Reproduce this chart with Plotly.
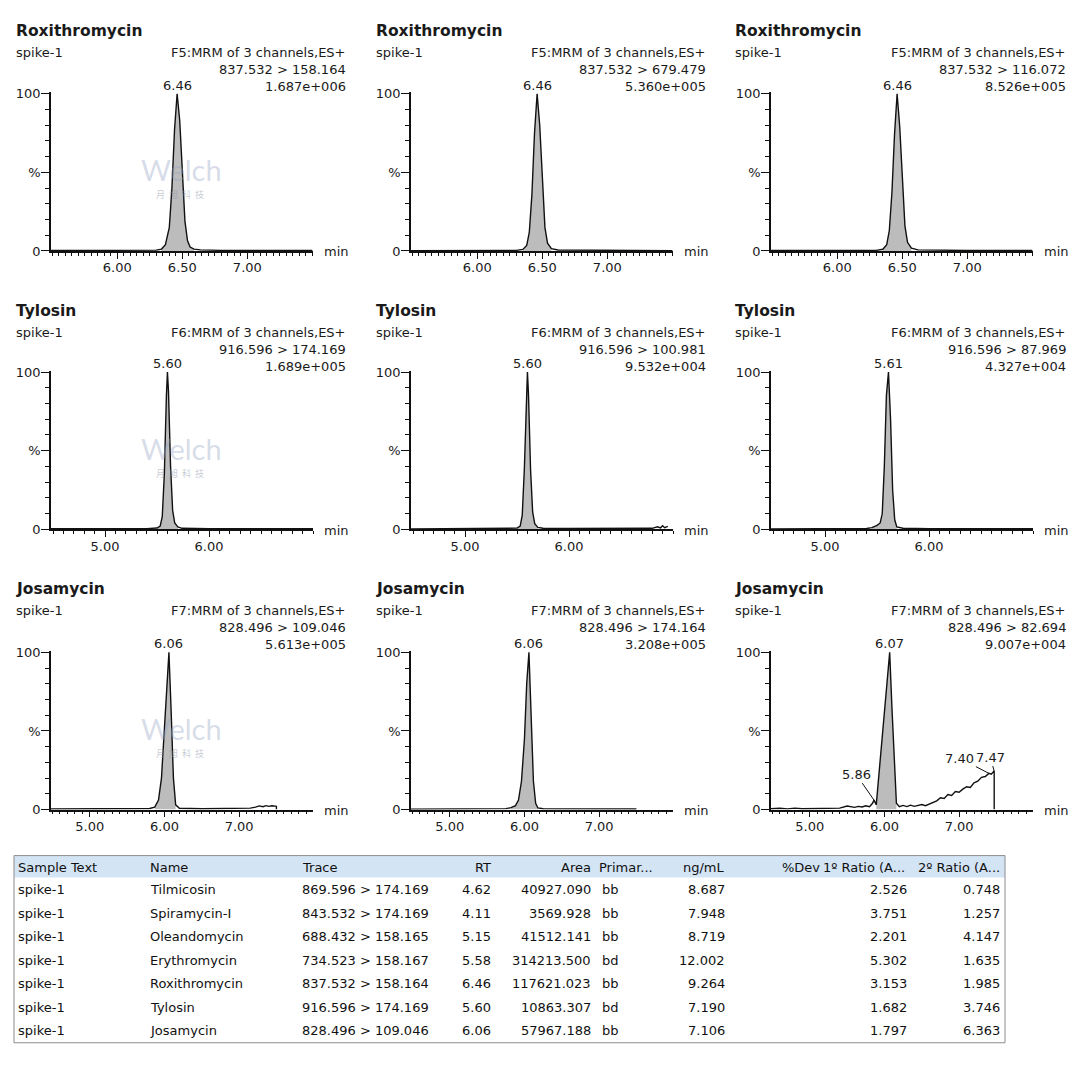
import numpy as np
import plotly.graph_objects as go

W = 1080
HF = 1079
# the page is photographed with a slight vertical squeeze; compensate
VS, VOFF = 0.986, 7.4

# ---------------- panel meta ----------------
compounds = ["Roxithromycin"] * 3 + ["Tylosin"] * 3 + ["Josamycin"] * 3
functions = (["F5:MRM of 3 channels,ES+"] * 3 + ["F6:MRM of 3 channels,ES+"] * 3
             + ["F7:MRM of 3 channels,ES+"] * 3)
transitions = ["837.532 > 158.164", "837.532 > 679.479", "837.532 > 116.072",
               "916.596 > 174.169", "916.596 > 100.981", "916.596 > 87.969",
               "828.496 > 109.046", "828.496 > 174.164", "828.496 > 82.694"]
intensities = ["1.687e+006", "5.360e+005", "8.526e+005",
               "1.689e+005", "9.532e+004", "4.327e+004",
               "5.613e+005", "3.208e+005", "9.007e+004"]
sample_name = "spike-1"
apex_rt = [6.46, 6.46, 6.46, 5.60, 5.60, 5.61, 6.06, 6.06, 6.07]
peak_start = [6.34, 6.35, 6.35, 5.50, 5.50, 5.45, 5.87, 5.82, 5.89]
peak_end = [6.59, 6.57, 6.57, 5.70, 5.70, 5.69, 6.15, 6.18, 6.16]

# ---------------- chromatogram traces (time min, % of max) ----------------
rox1_t = [5.49, 5.70, 5.95, 6.20, 6.30, 6.34, 6.37, 6.40, 6.42, 6.44, 6.46, 6.48, 6.50, 6.52, 6.54, 6.56, 6.59, 6.64, 6.80, 7.10, 7.50]
rox1_y = [0.3, 0.3, 0.2, 0.3, 0.5, 1.2, 4, 15, 40, 77, 100, 83, 48, 19, 6.5, 2.5, 1.2, 0.7, 0.4, 0.3, 0.3]
rox2_t = [5.49, 5.80, 6.10, 6.30, 6.35, 6.38, 6.40, 6.42, 6.44, 6.46, 6.48, 6.50, 6.52, 6.54, 6.57, 6.62, 7.00, 7.50]
rox2_y = [0.2, 0.3, 0.2, 0.4, 1.0, 3.5, 12, 36, 75, 100, 80, 42, 15, 5, 1.5, 0.6, 0.3, 0.2]
rox3_t = [5.49, 5.80, 6.10, 6.30, 6.35, 6.38, 6.40, 6.42, 6.44, 6.46, 6.48, 6.50, 6.52, 6.54, 6.57, 6.62, 7.00, 7.50]
rox3_y = [0.3, 0.2, 0.3, 0.4, 1.1, 4, 13, 37, 74, 100, 79, 44, 16, 5.5, 1.8, 0.7, 0.3, 0.3]

tyl1_t = [4.48, 4.80, 5.10, 5.40, 5.50, 5.53, 5.55, 5.57, 5.59, 5.60, 5.61, 5.63, 5.65, 5.67, 5.70, 5.74, 6.00, 6.40, 7.00]
tyl1_y = [0.3, 0.3, 0.4, 0.4, 0.8, 2, 8, 35, 85, 100, 88, 40, 12, 4, 1.5, 0.6, 0.4, 0.3, 0.3]
tyl2_t = [4.48, 4.80, 5.10, 5.40, 5.50, 5.53, 5.55, 5.57, 5.59, 5.60, 5.61, 5.63, 5.65, 5.67, 5.70, 5.75, 6.00, 6.40, 6.80, 6.85, 6.88, 6.90, 6.92, 6.95]
tyl2_y = [0.2, 0.3, 0.3, 0.4, 0.7, 2, 9, 38, 88, 100, 86, 38, 11, 3.5, 1.2, 0.6, 0.5, 0.4, 0.6, 1.6, 0.9, 2.2, 1.0, 1.8]
tyl3_t = [4.48, 4.80, 5.10, 5.40, 5.45, 5.50, 5.53, 5.55, 5.57, 5.59, 5.61, 5.63, 5.65, 5.67, 5.69, 5.75, 6.00, 6.40, 7.00]
tyl3_y = [0.2, 0.3, 0.3, 0.5, 1.0, 2.5, 4, 10, 40, 85, 100, 70, 25, 6, 1.5, 0.6, 0.4, 0.3, 0.3]

jos1_t = [4.48, 4.80, 5.10, 5.40, 5.60, 5.80, 5.87, 5.92, 5.96, 6.00, 6.03, 6.06, 6.09, 6.12, 6.15, 6.20, 6.50, 6.80, 7.00, 7.15, 7.22, 7.27, 7.32, 7.36, 7.40, 7.44, 7.48, 7.50, 7.50]
jos1_y = [0.3, 0.4, 0.3, 0.5, 0.6, 0.7, 1.5, 6, 20, 50, 80, 100, 62, 20, 3, 0.8, 0.5, 0.6, 0.7, 0.9, 1.5, 2.3, 1.8, 2.5, 2.0, 2.4, 2.2, 2.0, 0]
jos2_t = [4.48, 4.80, 5.10, 5.40, 5.60, 5.75, 5.82, 5.88, 5.92, 5.96, 6.00, 6.03, 6.06, 6.09, 6.12, 6.15, 6.18, 6.25, 6.50, 7.00, 7.50]
jos2_y = [0.2, 0.3, 0.2, 0.3, 0.4, 0.6, 1.2, 2.5, 6, 18, 45, 80, 100, 60, 18, 4, 1.0, 0.5, 0.4, 0.3, 0.3]
jos3_t = [4.48, 4.60, 4.70, 4.80, 4.90, 5.00, 5.10, 5.20, 5.30, 5.40,
          5.50, 5.55, 5.60, 5.65, 5.70, 5.75, 5.80, 5.84, 5.86, 5.89,
          5.95, 6.01, 6.07, 6.10, 6.13, 6.16, 6.20, 6.25, 6.30, 6.35,
          6.40, 6.45, 6.50, 6.55, 6.60, 6.65, 6.70, 6.75, 6.80, 6.85,
          6.90, 6.95, 7.00, 7.05, 7.10, 7.15, 7.20, 7.25, 7.30, 7.35,
          7.40, 7.43, 7.47, 7.47]
jos3_y = [0.5, 0.8, 0.4, 0.9, 0.5, 0.6, 1.0, 0.7, 1.2, 0.9,
          2.2, 1.6, 1.4, 2.0, 1.6, 2.4, 1.8, 4.0, 6.0, 3.0,
          35, 70, 100, 65, 30, 4, 1.8, 2.6, 1.9, 2.8,
          2.0, 2.6, 3.2, 2.4, 3.6, 4.5, 5.5, 7.5, 7.0, 9.5,
          9.0, 11.5, 11.0, 13, 14.5, 14, 17, 18, 20.5, 21,
          23, 22.5, 24.5, 0]

traces_t = [rox1_t, rox2_t, rox3_t, tyl1_t, tyl2_t, tyl3_t, jos1_t, jos2_t, jos3_t]
traces_y = [rox1_y, rox2_y, rox3_y, tyl1_y, tyl2_y, tyl3_y, jos1_y, jos2_y, jos3_y]

extra_panel = 8
extra_rt = [5.86, 7.40, 7.47]
extra_h = [6.0, 23.0, 24.5]

row_xrange = [[5.49, 7.505], [4.48, 7.0], [4.48, 7.99]]
row_tickvals = [[5.5, 5.75, 6.0, 6.25, 6.5, 6.75, 7.0, 7.25, 7.5],
                [4.5, 5.0, 5.5, 6.0, 6.5, 7.0],
                [4.5, 5.0, 5.5, 6.0, 6.5, 7.0, 7.5]]
row_ticktext = [["", "", "6.00", "", "6.50", "", "7.00", "", ""],
                ["", "5.00", "", "6.00", "", ""],
                ["", "5.00", "", "6.00", "", "7.00", ""]]
row_minor_step = [0.05, 0.1, 0.1]

# ---------------- results table ----------------
tbl_headers = ["Sample Text", "Name", "Trace", "RT", "Area", "Primar...",
               "ng/mL", "%Dev", "1º Ratio (A...", "2º Ratio (A..."]
tbl_sample = ["spike-1"] * 7
tbl_name = ["Tilmicosin", "Spiramycin-I", "Oleandomycin", "Erythromycin",
            "Roxithromycin", "Tylosin", "Josamycin"]
tbl_trace = ["869.596 > 174.169", "843.532 > 174.169", "688.432 > 158.165",
             "734.523 > 158.167", "837.532 > 158.164", "916.596 > 174.169",
             "828.496 > 109.046"]
tbl_rt = ["4.62", "4.11", "5.15", "5.58", "6.46", "5.60", "6.06"]
tbl_area = ["40927.090", "3569.928", "41512.141", "314213.500", "117621.023",
            "10863.307", "57967.188"]
tbl_primary = ["bb", "bb", "bb", "bd", "bb", "bd", "bb"]
tbl_ngml = ["8.687", "7.948", "8.719", "12.002", "9.264", "7.190", "7.106"]
tbl_dev = [""] * 7
tbl_ratio1 = ["2.526", "3.751", "2.201", "5.302", "3.153", "1.682", "1.797"]
tbl_ratio2 = ["0.748", "1.257", "4.147", "1.635", "1.985", "3.746", "6.363"]
tbl_columns = [tbl_sample, tbl_name, tbl_trace, tbl_rt, tbl_area, tbl_primary,
               tbl_ngml, tbl_dev, tbl_ratio1, tbl_ratio2]

# ---------------- geometry (target pixels in the 1080x1079 picture) ----------------
col_left = [51, 411, 771]
col_right = [313, 673, 1033]
row_top = [95, 373, 653]
row_bot = [252, 530, 810]
title_x = [14, 374, 733]
right_x = [348, 708, 1068]
title_y = [32, 312, 590]
sub_y = [54, 333, 611]
LINE = 17
YMAX = 101.0

tbl_left, tbl_right, tbl_top, tbl_head_bot, tbl_bot = 14, 1005, 856, 878, 1043
tbl_row0, tbl_row_h = 890, 23.5
tbl_col_x = [16, 148, 300, 493, 593, 597, 727, 822, 907, 1002]
tbl_col_anchor = ["left", "left", "left", "right", "right", "left", "right", "right", "right", "right"]
tbl_cell_x = [16, 148, 300, 493, 593, 600, 727, 822, 909, 1002]

FONT = "DejaVu Sans, sans-serif"
TXT = "#1a1a1a"
FILL = "#bcbcbc"
FS = 13


def px(x):
    return x / W


def py(y):
    return 1 - (y / VS - VOFF) / HF


fig = go.Figure()
annotations = []
layout_axes = {}

for i in range(9):
    r, c = divmod(i, 3)
    xa = "x" if i == 0 else f"x{i+1}"
    ya = "y" if i == 0 else f"y{i+1}"
    t = np.array(traces_t[i])
    y = np.array(traces_y[i])
    m = (t >= peak_start[i]) & (t <= peak_end[i])
    fig.add_trace(go.Scatter(x=t[m], y=y[m], mode="lines", fill="tozeroy",
                             fillcolor=FILL, line=dict(width=0, color=FILL),
                             xaxis=xa, yaxis=ya, hoverinfo="skip"))
    fig.add_trace(go.Scatter(x=t, y=y, mode="lines",
                             line=dict(color="#111111", width=1.4),
                             xaxis=xa, yaxis=ya, hoverinfo="skip"))

    top_px = row_bot[r] - (row_bot[r] - row_top[r]) * YMAX / 100.0
    xr = row_xrange[r]
    step = row_minor_step[r]
    minor_vals = list(np.round(np.arange(np.ceil(xr[0] / step) * step, xr[1] + 1e-9, step), 3))
    key = "" if i == 0 else str(i + 1)
    layout_axes["xaxis" + key] = dict(
        domain=[px(col_left[c]), px(col_right[c])], anchor=ya, range=xr,
        showline=True, linecolor="#111", linewidth=1.5, showgrid=False, zeroline=False,
        ticks="outside", ticklen=6, tickwidth=1.2, tickcolor="#111",
        tickmode="array", tickvals=row_tickvals[r], ticktext=row_ticktext[r],
        tickfont=dict(family=FONT, size=FS, color=TXT), ticklabelstandoff=-2,
        minor=dict(tickmode="array", tickvals=minor_vals, ticks="outside",
                   ticklen=3, tickwidth=1, tickcolor="#111"),
        fixedrange=True)
    layout_axes["yaxis" + key] = dict(
        domain=[py(row_bot[r]), py(top_px)], anchor=xa, range=[0, YMAX],
        showline=True, linecolor="#111", linewidth=1.5, showgrid=False, zeroline=False,
        ticks="outside", ticklen=8, tickwidth=1.2, tickcolor="#111",
        tickmode="array", tickvals=[0, 50, 100], ticktext=["0", "%", "100"],
        tickfont=dict(family=FONT, size=FS, color=TXT), ticklabelstandoff=-2,
        minor=dict(tickmode="array", tickvals=[10, 20, 30, 40, 60, 70, 80, 90],
                   ticks="outside", ticklen=4, tickwidth=1, tickcolor="#111"),
        fixedrange=True)

    annotations.append(dict(x=px(title_x[c]), y=py(title_y[r]), xref="paper", yref="paper",
                            text=f"<b>{compounds[i]}</b>", showarrow=False,
                            xanchor="left", yanchor="middle",
                            font=dict(family=FONT, size=15.5, color=TXT)))
    annotations.append(dict(x=px(title_x[c]), y=py(sub_y[r]), xref="paper", yref="paper",
                            text=sample_name, showarrow=False, xanchor="left", yanchor="middle",
                            font=dict(family=FONT, size=FS, color=TXT)))
    for k, s in enumerate([functions[i], transitions[i], intensities[i]]):
        annotations.append(dict(x=px(right_x[c]), y=py(sub_y[r] + k * LINE),
                                xref="paper", yref="paper", text=s, showarrow=False,
                                xanchor="right", yanchor="middle",
                                font=dict(family=FONT, size=FS, color=TXT)))
    annotations.append(dict(x=px(col_right[c] + 9), y=py(row_bot[r] + 1), xref="paper",
                            yref="paper", text="min", showarrow=False, xanchor="left",
                            yanchor="middle", font=dict(family=FONT, size=FS, color=TXT)))
    annotations.append(dict(x=apex_rt[i], y=100, xref=xa, yref=ya, text=f"{apex_rt[i]:.2f}",
                            showarrow=False, xanchor="center", yanchor="bottom", yshift=-1,
                            font=dict(family=FONT, size=FS, color=TXT)))

extra_ax = [-18, -29, -4]
extra_ay = [-26, -15, -14]
for k in range(len(extra_rt)):
    annotations.append(dict(x=extra_rt[k], y=extra_h[k], xref=f"x{extra_panel+1}",
                            yref=f"y{extra_panel+1}", text=f"{extra_rt[k]:.2f}",
                            showarrow=True, arrowhead=0, arrowwidth=1, arrowcolor="#111",
                            ax=extra_ax[k], ay=extra_ay[k], standoff=0,
                            font=dict(family=FONT, size=FS, color=TXT)))

# watermark (faint logo text) in first column
for r in range(3):
    annotations.append(dict(x=px(181), y=py(row_top[r] + 76), xref="paper", yref="paper",
                            text="Welch", showarrow=False, xanchor="center", yanchor="middle",
                            font=dict(family="Lato, sans-serif", size=29,
                                      color="rgba(150,165,195,0.38)")))
    annotations.append(dict(x=px(180), y=py(row_top[r] + 101), xref="paper", yref="paper",
                            text="月  旭  科  技", showarrow=False, xanchor="center",
                            yanchor="middle",
                            font=dict(family="Noto Sans CJK SC", size=9,
                                      color="rgba(140,150,170,0.5)")))

# table text
for j, head in enumerate(tbl_headers):
    annotations.append(dict(x=px(tbl_col_x[j]), y=py((tbl_top + tbl_head_bot) / 2 + 0.5),
                            xref="paper", yref="paper", text=head, showarrow=False,
                            xanchor=tbl_col_anchor[j], yanchor="middle",
                            font=dict(family=FONT, size=FS, color="#111")))
    for k, val in enumerate(tbl_columns[j]):
        if val == "":
            continue
        annotations.append(dict(x=px(tbl_cell_x[j]), y=py(tbl_row0 + k * tbl_row_h),
                                xref="paper", yref="paper", text=val, showarrow=False,
                                xanchor=tbl_col_anchor[j], yanchor="middle",
                                font=dict(family=FONT, size=FS, color="#111")))

shapes = [
    dict(type="rect", xref="paper", yref="paper", x0=px(tbl_left), x1=px(tbl_right),
         y0=py(tbl_head_bot), y1=py(tbl_top), line=dict(width=0),
         fillcolor="#d3e4f5", layer="below"),
    dict(type="rect", xref="paper", yref="paper", x0=px(tbl_left), x1=px(tbl_right),
         y0=py(tbl_bot), y1=py(tbl_top), line=dict(color="#8c8c8c", width=1),
         fillcolor="rgba(0,0,0,0)", layer="above"),
]

fig.update_layout(width=W, height=HF, margin=dict(l=0, r=0, t=0, b=0),
                  paper_bgcolor="white", plot_bgcolor="white", showlegend=False,
                  annotations=annotations, shapes=shapes, **layout_axes)

fig.write_html("out.html", config={"displayModeBar": False},
               post_script="document.body.style.margin='0';")
